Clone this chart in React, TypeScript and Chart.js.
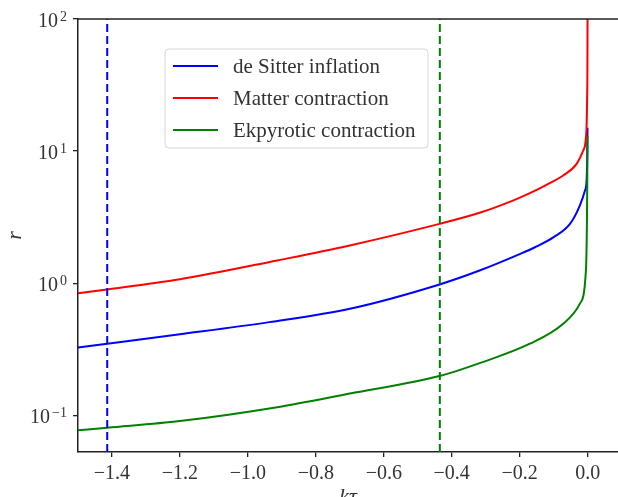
import React, { useEffect, useRef } from "react";
import { Chart, registerables } from "chart.js";

Chart.register(...registerables);

// ---- data ----
const seriesLabels = ["de Sitter inflation", "Matter contraction", "Ekpyrotic contraction"];
const seriesColors = ["#0000ff", "#ff0000", "#008000"];

const blueX = [-1.5, -1.414, -1.2, -0.937, -0.7, -0.436, -0.318, -0.2, -0.155, -0.1, -0.052, -0.023, -0.008, -0.003, -0.0012, -0.0004];
const blueR = [0.326, 0.348, 0.41, 0.507, 0.64, 0.978, 1.247, 1.66, 1.87, 2.23, 2.81, 3.87, 5.0, 6.0, 9, 15];

const redX = [-1.5, -1.414, -1.2, -0.914, -0.7, -0.436, -0.318, -0.22, -0.17, -0.121, -0.072, -0.0325, -0.013, -0.005, -0.0015, -0.0003, -0.00005];
const redR = [0.84, 0.896, 1.07, 1.486, 1.93, 2.81, 3.41, 4.22, 4.8, 5.55, 6.53, 8.0, 10.1, 12.7, 25, 80, 300];

const greenX = [-1.5, -1.414, -1.2, -0.914, -0.7, -0.436, -0.318, -0.17, -0.072, -0.0227, -0.005, -0.002, -0.0008, -0.0003];
const greenR = [0.0769, 0.0805, 0.0904, 0.115, 0.146, 0.198, 0.248, 0.348, 0.493, 0.7, 1.25, 3.0, 8, 13];

const vlineX = [-1.414, -0.435];
const vlineColors = ["#0000ff", "#008000"];

const xMin = -1.5;
const xMax = 0.0894;
const yMin = 0.0527;
const yMax = 100;

const xTicks = [-1.4, -1.2, -1.0, -0.8, -0.6, -0.4, -0.2, 0.0];
const yTicks = [0.1, 1, 10, 100];
const yTickExponents = ["\u22121", "0", "1", "2"];

const SERIF = '"Liberation Serif", "DejaVu Serif", serif';
const TEXT = "#333333";

const toPts = (xs: number[], ys: number[]) => xs.map((x, i) => ({ x, y: ys[i] }));

const frameAndLabels = {
  id: "frameAndLabels",
  afterDraw(chart: any) {
    const { ctx, chartArea } = chart;
    ctx.save();
    // top spine
    ctx.strokeStyle = "#222";
    ctx.lineWidth = 1.5;
    ctx.beginPath();
    ctx.moveTo(chartArea.left, chartArea.top);
    ctx.lineTo(chart.width, chartArea.top);
    ctx.stroke();

    // y tick labels 10^n
    const yScale = chart.scales.y;
    const right = chartArea.left - 11;
    ctx.fillStyle = TEXT;
    ctx.textBaseline = "alphabetic";
    ctx.textAlign = "left";
    yTicks.forEach((v, i) => {
      const py = yScale.getPixelForValue(v);
      const exp = yTickExponents[i];
      ctx.font = `14px ${SERIF}`;
      const ew = ctx.measureText(exp).width;
      ctx.font = `20px ${SERIF}`;
      const bw = ctx.measureText("10").width;
      const ex = right - ew;
      const bx = ex - 2 - bw;
      ctx.fillText("10", bx, py + 8);
      ctx.font = `14px ${SERIF}`;
      ctx.fillText(exp, ex, py + 2);
    });

    // legend
    const lx = chartArea.left + 87;
    const ly = chartArea.top + 30;
    const lw = 263;
    const lh = 99;
    const r = 4;
    ctx.beginPath();
    ctx.moveTo(lx + r, ly);
    ctx.lineTo(lx + lw - r, ly);
    ctx.quadraticCurveTo(lx + lw, ly, lx + lw, ly + r);
    ctx.lineTo(lx + lw, ly + lh - r);
    ctx.quadraticCurveTo(lx + lw, ly + lh, lx + lw - r, ly + lh);
    ctx.lineTo(lx + r, ly + lh);
    ctx.quadraticCurveTo(lx, ly + lh, lx, ly + lh - r);
    ctx.lineTo(lx, ly + r);
    ctx.quadraticCurveTo(lx, ly, lx + r, ly);
    ctx.closePath();
    ctx.fillStyle = "rgba(255,255,255,0.85)";
    ctx.fill();
    ctx.strokeStyle = "#d6d6d6";
    ctx.lineWidth = 1;
    ctx.stroke();

    ctx.font = `21px ${SERIF}`;
    ctx.textBaseline = "middle";
    ctx.textAlign = "left";
    seriesLabels.forEach((lab, i) => {
      const yy = ly + 17 + i * 32;
      ctx.strokeStyle = seriesColors[i];
      ctx.lineWidth = 2;
      ctx.beginPath();
      ctx.moveTo(lx + 8, yy);
      ctx.lineTo(lx + 53, yy);
      ctx.stroke();
      ctx.fillStyle = TEXT;
      ctx.fillText(lab, lx + 68, yy + 1);
    });
    ctx.restore();
  },
};

export default function App() {
  const ref = useRef<HTMLCanvasElement | null>(null);

  useEffect(() => {
    if (!ref.current) return;
    const curveData = [toPts(blueX, blueR), toPts(redX, redR), toPts(greenX, greenR)];
    const curveOrder = [3, 1, 2];
    const datasets: any[] = curveData.map((d, i) => ({
      label: seriesLabels[i],
      data: d,
      borderColor: seriesColors[i],
      backgroundColor: seriesColors[i],
      borderWidth: 2,
      pointRadius: 0,
      cubicInterpolationMode: "monotone",
      fill: false,
      order: curveOrder[i],
    }));
    vlineX.forEach((x, i) => {
      datasets.push({
        label: "vline" + i,
        data: [
          { x, y: yMin },
          { x, y: yMax },
        ],
        borderColor: vlineColors[i],
        borderWidth: 2,
        borderDash: [8, 4],
        pointRadius: 0,
        fill: false,
        order: 0,
      });
    });

    const chart = new Chart(ref.current, {
      type: "line",
      data: { datasets },
      options: {
        animation: false,
        responsive: false,
        maintainAspectRatio: false,
        layout: { padding: { top: 19, left: 0, right: 0, bottom: 0 } },
        plugins: { legend: { display: false }, tooltip: { enabled: false } },
        scales: {
          x: {
            type: "linear",
            min: xMin,
            max: xMax,
            afterBuildTicks: (s: any) => {
              s.ticks = xTicks.map((v) => ({ value: v }));
            },
            afterFit: (s: any) => {
              s.height = 58;
            },
            ticks: {
              includeBounds: false,
              maxRotation: 0,
              autoSkip: false,
              padding: 5,
              color: TEXT,
              font: { family: SERIF, size: 20 },
              callback: (v: any) => {
                const n = Number(v);
                const s = Math.abs(n).toFixed(1);
                return n < -1e-9 ? "\u2212" + s : s;
              },
            },
            grid: {
              display: true,
              drawOnChartArea: false,
              drawTicks: true,
              tickLength: 5,
              color: "#222",
              lineWidth: 1.3,
            },
            border: { display: true, color: "#222", width: 1.5 },
            title: {
              display: true,
              text: "k\u03c4",
              color: TEXT,
              font: { family: SERIF, size: 22, style: "italic" },
              padding: { top: 0, bottom: 0 },
            },
          },
          y: {
            type: "logarithmic",
            min: yMin,
            max: yMax,
            afterBuildTicks: (s: any) => {
              s.ticks = yTicks.map((v) => ({ value: v }));
            },
            afterFit: (s: any) => {
              s.width = 78;
            },
            ticks: { display: false },
            grid: {
              display: true,
              drawOnChartArea: false,
              drawTicks: true,
              tickLength: 5,
              color: "#222",
              lineWidth: 1.3,
            },
            border: { display: true, color: "#222", width: 1.5 },
            title: {
              display: true,
              text: "r",
              color: TEXT,
              font: { family: SERIF, size: 22, style: "italic" },
              padding: { top: 2, bottom: 0 },
            },
          },
        },
      },
      plugins: [frameAndLabels],
    } as any);
    return () => chart.destroy();
  }, []);

  return (
    <div
      style={{
        position: "fixed",
        left: 0,
        top: 0,
        width: 618,
        height: 497,
        overflow: "hidden",
        background: "#fff",
      }}
    >
      <canvas ref={ref} width={618} height={510} style={{ display: "block" }} />
    </div>
  );
}
